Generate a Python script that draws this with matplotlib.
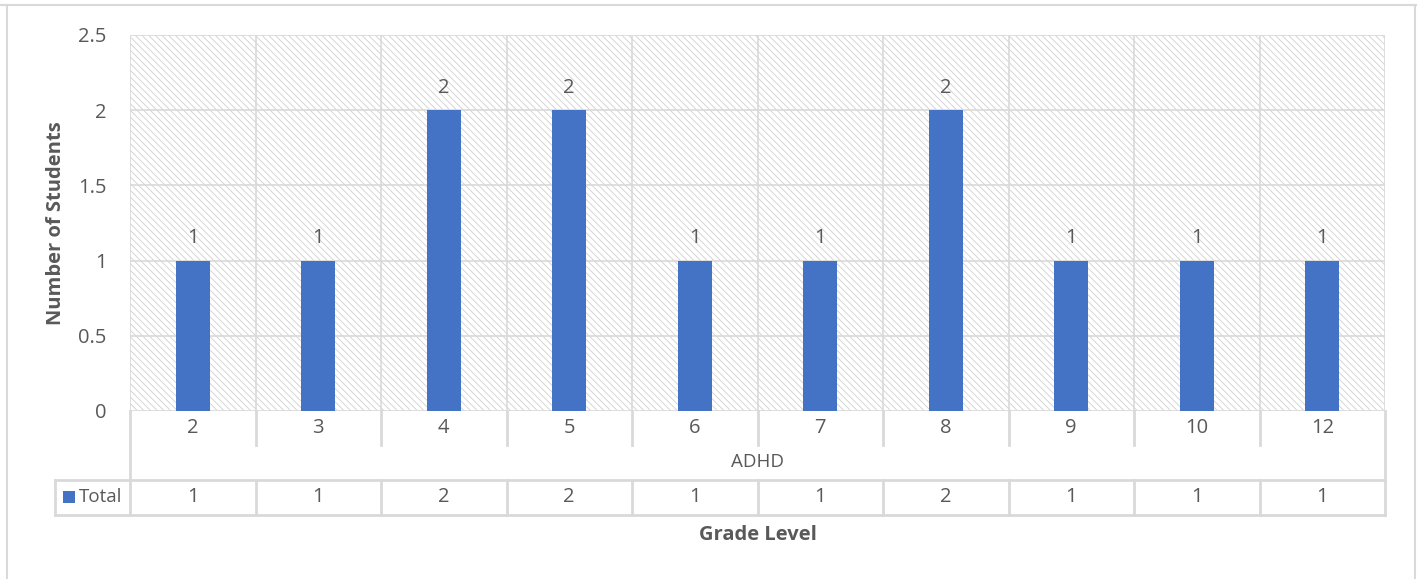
import matplotlib
matplotlib.use("Agg")
import matplotlib.pyplot as plt
from matplotlib.lines import Line2D
from matplotlib.patches import Rectangle
import matplotlib.transforms as mtransforms

categories = ["2", "3", "4", "5", "6", "7", "8", "9", "10", "12"]
values = [1, 1, 2, 2, 1, 1, 2, 1, 1, 1]
group_label = "ADHD"
series_name = "Total"
yticks = [0, 0.5, 1, 1.5, 2, 2.5]
ytick_labels = ["0", "0.5", "1", "1.5", "2", "2.5"]

W, H = 1421, 579
plt.rcParams['font.family'] = ['Open Sans', 'DejaVu Sans']
plt.rcParams['hatch.color'] = '#d0d0d0'
plt.rcParams['hatch.linewidth'] = 0.6

TXT = '#595959'
GRID = '#d9d9d9'
BAR = '#4472C4'
FS = 13.5
FST = 14.5
FSB = 14.5

fig = plt.figure(figsize=(W / 100, H / 100), dpi=100)

def fx(px):
    return px / W

def fy(py):
    return 1 - py / H

ax_l, ax_r, ax_t, ax_b = 130, 1385, 35, 411
ax = fig.add_axes([fx(ax_l), fy(ax_b), fx(ax_r - ax_l), (ax_b - ax_t) / H])

n = len(categories)
xs = list(range(n))
ax.set_xlim(-0.5, n - 0.5)
ax.set_ylim(0, 2.5)

# hatched background
bg = Rectangle((0, 0), 1, 1, transform=ax.transAxes, facecolor='white',
               edgecolor='#d0d0d0', hatch='\\\\\\\\\\', linewidth=0, zorder=0)
ax.add_patch(bg)
ax.set_facecolor('white')

for y in yticks:
    ax.axhline(y, color=GRID, lw=1.2, zorder=1)
for i in range(n + 1):
    ax.axvline(i - 0.5, color=GRID, lw=1.2, zorder=1)

bars = ax.bar(xs, values, width=0.27, color=BAR, zorder=3)
for x, v in zip(xs, values):
    ax.annotate(str(v), (x, v), xytext=(0, 16), textcoords='offset points',
                ha='center', va='center', fontsize=FST, color=TXT)

for s in ax.spines.values():
    s.set_visible(False)
ax.set_xticks([])
ax.set_yticks(yticks)
ax.set_yticklabels(ytick_labels, fontsize=FST, color=TXT)
ax.tick_params(axis='y', length=0, pad=17)
ax.set_ylabel("Number of Students", fontsize=FSB, fontweight='bold', color=TXT)
ax.yaxis.set_label_coords((66 - ax_l) / (ax_r - ax_l), 0.5)

# table below plot (x in data coords, y in axes fraction)
trans = mtransforms.blended_transform_factory(ax.transData, ax.transAxes)
axh = ax_b - ax_t
def ay(py):
    return (ax_b - py) / axh

r1, r2, r3 = ay(445), ay(480), ay(515)
row1_c, row2_c, row3_c = ay(428), ay(462), ay(497)

def vline(x, y0, y1, tr=trans):
    ax.add_line(Line2D([x, x], [y0, y1], transform=tr, color=GRID, lw=2, clip_on=False))

def hline(x0, x1, y, tr=trans):
    ax.add_line(Line2D([x0, x1], [y, y], transform=tr, color=GRID, lw=2, clip_on=False))

for i in range(n + 1):
    xb = i - 0.5
    if i == 0 or i == n:
        vline(xb, 0, r3)
    else:
        vline(xb, 0, r1)
        vline(xb, r2, r3)

left_px = 55
left_ax = (left_px - ax_l) / (ax_r - ax_l)
hline(left_ax, 1, r2, tr=ax.transAxes)
hline(left_ax, 1, r3, tr=ax.transAxes)
vline(left_ax, r2, r3, tr=ax.transAxes)

for x, c, v in zip(xs, categories, values):
    ax.text(x, row1_c, c, transform=trans, ha='center', va='center', fontsize=FST, color=TXT)
    ax.text(x, row3_c, str(v), transform=trans, ha='center', va='center', fontsize=FST, color=TXT)
ax.text(0.5, row2_c, group_label, transform=ax.transAxes, ha='center', va='center',
        fontsize=FS, color=TXT)

# legend key in table
sq_l = (63 - ax_l) / (ax_r - ax_l)
sq_w = 12 / (ax_r - ax_l)
ax.add_patch(Rectangle((sq_l, ay(503)), sq_w, 12 / axh, transform=ax.transAxes,
                       facecolor=BAR, edgecolor='none', clip_on=False))
ax.text((79 - ax_l) / (ax_r - ax_l), row3_c, series_name, transform=ax.transAxes,
        ha='left', va='center', fontsize=FS, color=TXT)

ax.text(0.5, ay(535), "Grade Level", transform=ax.transAxes, ha='center', va='center',
        fontsize=FSB, fontweight='bold', color=TXT)

# outer chart border
fig.add_artist(Line2D([fx(0), fx(1416)], [fy(5), fy(5)], color=GRID, lw=1.5))
fig.add_artist(Line2D([fx(7), fx(7)], [fy(5), 0], color=GRID, lw=1.5))
fig.add_artist(Line2D([fx(1415), fx(1415)], [fy(5), 0], color=GRID, lw=1.5))

fig.savefig("out.png", dpi=100)
